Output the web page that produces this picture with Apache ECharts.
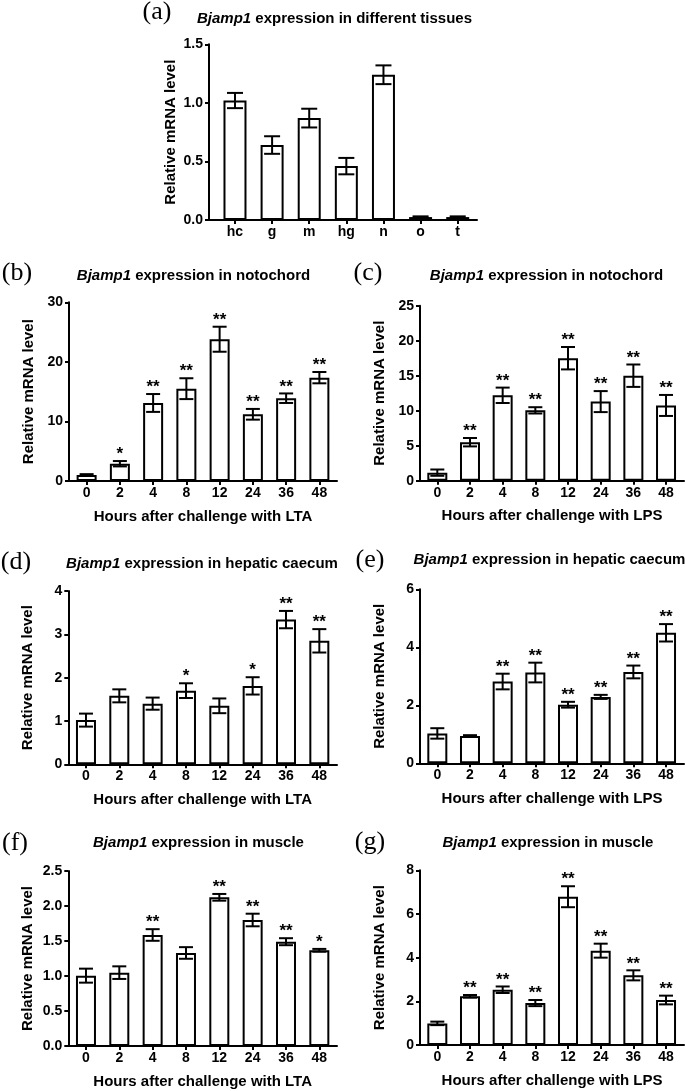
<!DOCTYPE html>
<html>
<head>
<meta charset="utf-8">
<script src="https://cdn.jsdelivr.net/npm/echarts@6/dist/echarts.min.js"></script>
<style>html,body{margin:0;padding:0;background:#fff}#c{width:685px;height:1091px}</style>
</head>
<body>
<div id="c"></div>
<script>
// ---------- data ----------
const tissueCats = ['hc', 'g', 'm', 'hg', 'n', 'o', 't'];
const hourCats = ['0', '2', '4', '8', '12', '24', '36', '48'];

const aVals = [1.02, 0.64, 0.87, 0.46, 1.24, 0.025, 0.025];
const aErr  = [0.065, 0.075, 0.08, 0.07, 0.08, 0.006, 0.006];

const bVals  = [1.0, 2.9, 13.1, 15.5, 23.8, 11.2, 13.9, 17.35];
const bErr   = [0.15, 0.45, 1.5, 1.75, 2.1, 0.9, 0.8, 0.95];
const bStars = ['', '*', '**', '**', '**', '**', '**', '**'];

const cVals  = [1.15, 5.5, 12.2, 10.05, 17.5, 11.3, 15.0, 10.75];
const cErr   = [0.45, 0.6, 1.1, 0.45, 1.6, 1.5, 1.6, 1.5];
const cStars = ['', '**', '**', '**', '**', '**', '**', '**'];

const dVals  = [1.02, 1.58, 1.40, 1.70, 1.35, 1.81, 3.34, 2.85];
const dErr   = [0.15, 0.15, 0.14, 0.17, 0.17, 0.20, 0.20, 0.27];
const dStars = ['', '', '', '*', '', '*', '**', '**'];

const eVals  = [1.03, 0.94, 2.82, 3.13, 2.02, 2.29, 3.15, 4.5];
const eErr   = [0.18, 0.03, 0.27, 0.34, 0.10, 0.07, 0.22, 0.30];
const eStars = ['', '', '**', '**', '**', '**', '**', '**'];

const fVals  = [1.005, 1.048, 1.586, 1.329, 2.124, 1.80, 1.49, 1.367];
const fErr   = [0.10, 0.09, 0.083, 0.083, 0.048, 0.09, 0.05, 0.02];
const fStars = ['', '', '**', '', '**', '**', '**', '*'];

const gVals  = [0.99, 2.23, 2.53, 1.92, 6.79, 4.32, 3.19, 2.06];
const gErr   = [0.08, 0.06, 0.15, 0.14, 0.48, 0.32, 0.23, 0.20];
const gStars = ['', '**', '**', '**', '**', '**', '**', '**'];

const yTicks = {a: [0, 1.5, 0.5], b: [0, 30, 10], c: [0, 25, 5], d: [0, 4, 1], e: [0, 6, 2], f: [0, 2.5, 0.5], g: [0, 8, 2]};

const titles = {
  a: 'expression in different tissues',
  b: 'expression in notochord', c: 'expression in notochord',
  d: 'expression in hepatic caecum', e: 'expression in hepatic caecum',
  f: 'expression in muscle', g: 'expression in muscle'
};
const xNames = {b: 'Hours after challenge with LTA', c: 'Hours after challenge with LPS',
  d: 'Hours after challenge with LTA', e: 'Hours after challenge with LPS',
  f: 'Hours after challenge with LTA', g: 'Hours after challenge with LPS'};
const yName = 'Relative mRNA level';

// ---------- layout ----------
const FONT = '"Liberation Sans", Arial, sans-serif';
const panels = [
  {k: 'a', cats: tissueCats, v: aVals, e: aErr, s: null, grid: {left: 209, top: 44.3, width: 268, height: 175.7}, xr: [-0.7, 6.52], bw: 23, cap: 16, dec: 1, title: [334.5, 19], lab: [157, 12]},
  {k: 'b', cats: hourCats, v: bVals, e: bErr, s: bStars, grid: {left: 69, top: 302.3, width: 268, height: 178.7}, xr: [-0.53, 7.53], bw: 20, cap: 14, dec: 0, title: [193.5, 276], lab: [17, 273]},
  {k: 'c', cats: hourCats, v: cVals, e: cErr, s: cStars, grid: {left: 420, top: 305.7, width: 264, height: 175}, xr: [-0.53, 7.55], bw: 20, cap: 14, dec: 0, title: [546.5, 276], lab: [368, 273]},
  {k: 'd', cats: hourCats, v: dVals, e: dErr, s: dStars, grid: {left: 68.3, top: 591, width: 268.7, height: 173.3}, xr: [-0.53, 7.53], bw: 20, cap: 14, dec: 0, title: [202, 564], lab: [16, 562]},
  {k: 'e', cats: hourCats, v: eVals, e: eErr, s: eStars, grid: {left: 420, top: 589.3, width: 264, height: 174}, xr: [-0.53, 7.55], bw: 20, cap: 14, dec: 0, title: [549.5, 560], lab: [370, 560]},
  {k: 'f', cats: hourCats, v: fVals, e: fErr, s: fStars, grid: {left: 68.3, top: 871, width: 268.7, height: 175}, xr: [-0.53, 7.53], bw: 20, cap: 14, dec: 1, title: [198.5, 843], lab: [15, 843]},
  {k: 'g', cats: hourCats, v: gVals, e: gErr, s: gStars, grid: {left: 420, top: 870.3, width: 264, height: 174.7}, xr: [-0.53, 7.55], bw: 20, cap: 14, dec: 0, title: [548, 843], lab: [370, 842]}
];

const grids = [], xAxes = [], yAxes = [], series = [], graphics = [];
panels.forEach((p, i) => {
  grids.push(Object.assign({containLabel: false}, p.grid));
  const idx = p.cats.map((_, j) => j);
  xAxes.push({
    gridIndex: i, type: 'value', min: p.xr[0], max: p.xr[1],
    name: xNames[p.k] || '', nameLocation: 'middle', nameGap: 28,
    nameTextStyle: {fontFamily: FONT, fontWeight: 'bold', fontSize: 15, color: '#000'},
    axisLine: {show: true, onZero: false, lineStyle: {color: '#000', width: 2}},
    axisTick: {show: true, length: 4, customValues: idx, lineStyle: {color: '#000', width: 2}},
    axisLabel: {show: true, customValues: idx, margin: 5, formatter: (val) => p.cats[Math.round(val)],
      fontFamily: FONT, fontWeight: 'bold', fontSize: 14, color: '#000'},
    splitLine: {show: false}
  });
  const yt = yTicks[p.k];
  yAxes.push({
    gridIndex: i, type: 'value', min: yt[0], max: yt[1], interval: yt[2],
    name: yName, nameLocation: 'middle', nameRotate: 90, nameGap: p.k === 'a' ? 31 : 33,
    nameTextStyle: {fontFamily: FONT, fontWeight: 'bold', fontSize: 15, color: '#000'},
    axisLine: {show: true, onZero: false, lineStyle: {color: '#000', width: 2}},
    axisTick: {show: true, length: 4, lineStyle: {color: '#000', width: 2}},
    axisLabel: {margin: 6, formatter: (val) => val.toFixed(p.dec),
      fontFamily: FONT, fontWeight: 'bold', fontSize: 14, color: '#000'},
    splitLine: {show: false}
  });
  const barData = p.v.map((v, j) => [j, v]);
  series.push({
    type: 'bar', xAxisIndex: i, yAxisIndex: i, data: barData, barWidth: p.bw,
    itemStyle: {color: '#fff', borderColor: '#000', borderWidth: 2}, silent: true, z: 2
  });
  const errData = p.v.map((v, j) => [j, v - p.e[j], v + p.e[j]]);
  const stars = p.s;
  const cap = p.cap;
  series.push({
    type: 'custom', xAxisIndex: i, yAxisIndex: i, data: errData, z: 5, silent: true,
    dimensions: ['x', 'lo', 'hi'],
    encode: {x: 0, y: [1, 2]},
    renderItem: (params, api) => {
      const x = api.value(0), lo = api.value(1), hi = api.value(2);
      const star = stars ? stars[params.dataIndex] : '';
      const t = api.coord([x, hi]), b = api.coord([x, lo]);
      const st = {stroke: '#000', lineWidth: 2};
      const ch = [
        {type: 'line', shape: {x1: t[0], y1: t[1], x2: b[0], y2: b[1]}, style: st},
        {type: 'line', shape: {x1: t[0] - cap / 2, y1: t[1], x2: t[0] + cap / 2, y2: t[1]}, style: st},
        {type: 'line', shape: {x1: b[0] - cap / 2, y1: b[1], x2: b[0] + cap / 2, y2: b[1]}, style: st}
      ];
      if (star) ch.push({type: 'text', style: {text: star, x: t[0], y: t[1] + 2, align: 'center', verticalAlign: 'bottom',
        fontFamily: FONT, fontWeight: 'bold', fontSize: 17, fill: '#000'}});
      return {type: 'group', children: ch};
    }
  });
  graphics.push({type: 'text', x: p.title[0], y: p.title[1], style: {
    text: '{i|Bjamp1} ' + titles[p.k], align: 'center', verticalAlign: 'middle',
    fontFamily: FONT, fontWeight: 'bold', fontSize: 15, fill: '#000',
    rich: {i: {fontFamily: FONT, fontWeight: 'bold', fontStyle: 'italic', fontSize: 15, fill: '#000'}}
  }});
  graphics.push({type: 'text', x: p.lab[0], y: p.lab[1], style: {
    text: '(' + p.k + ')', align: 'center', verticalAlign: 'middle',
    fontFamily: '"Liberation Serif", "Times New Roman", serif', fontSize: 26, fill: '#000'
  }});
});

const chart = echarts.init(document.getElementById('c'), null, {renderer: 'canvas'});
chart.setOption({
  backgroundColor: '#fff', animation: false,
  grid: grids, xAxis: xAxes, yAxis: yAxes, series: series, graphic: graphics
});
</script>
</body>
</html>
